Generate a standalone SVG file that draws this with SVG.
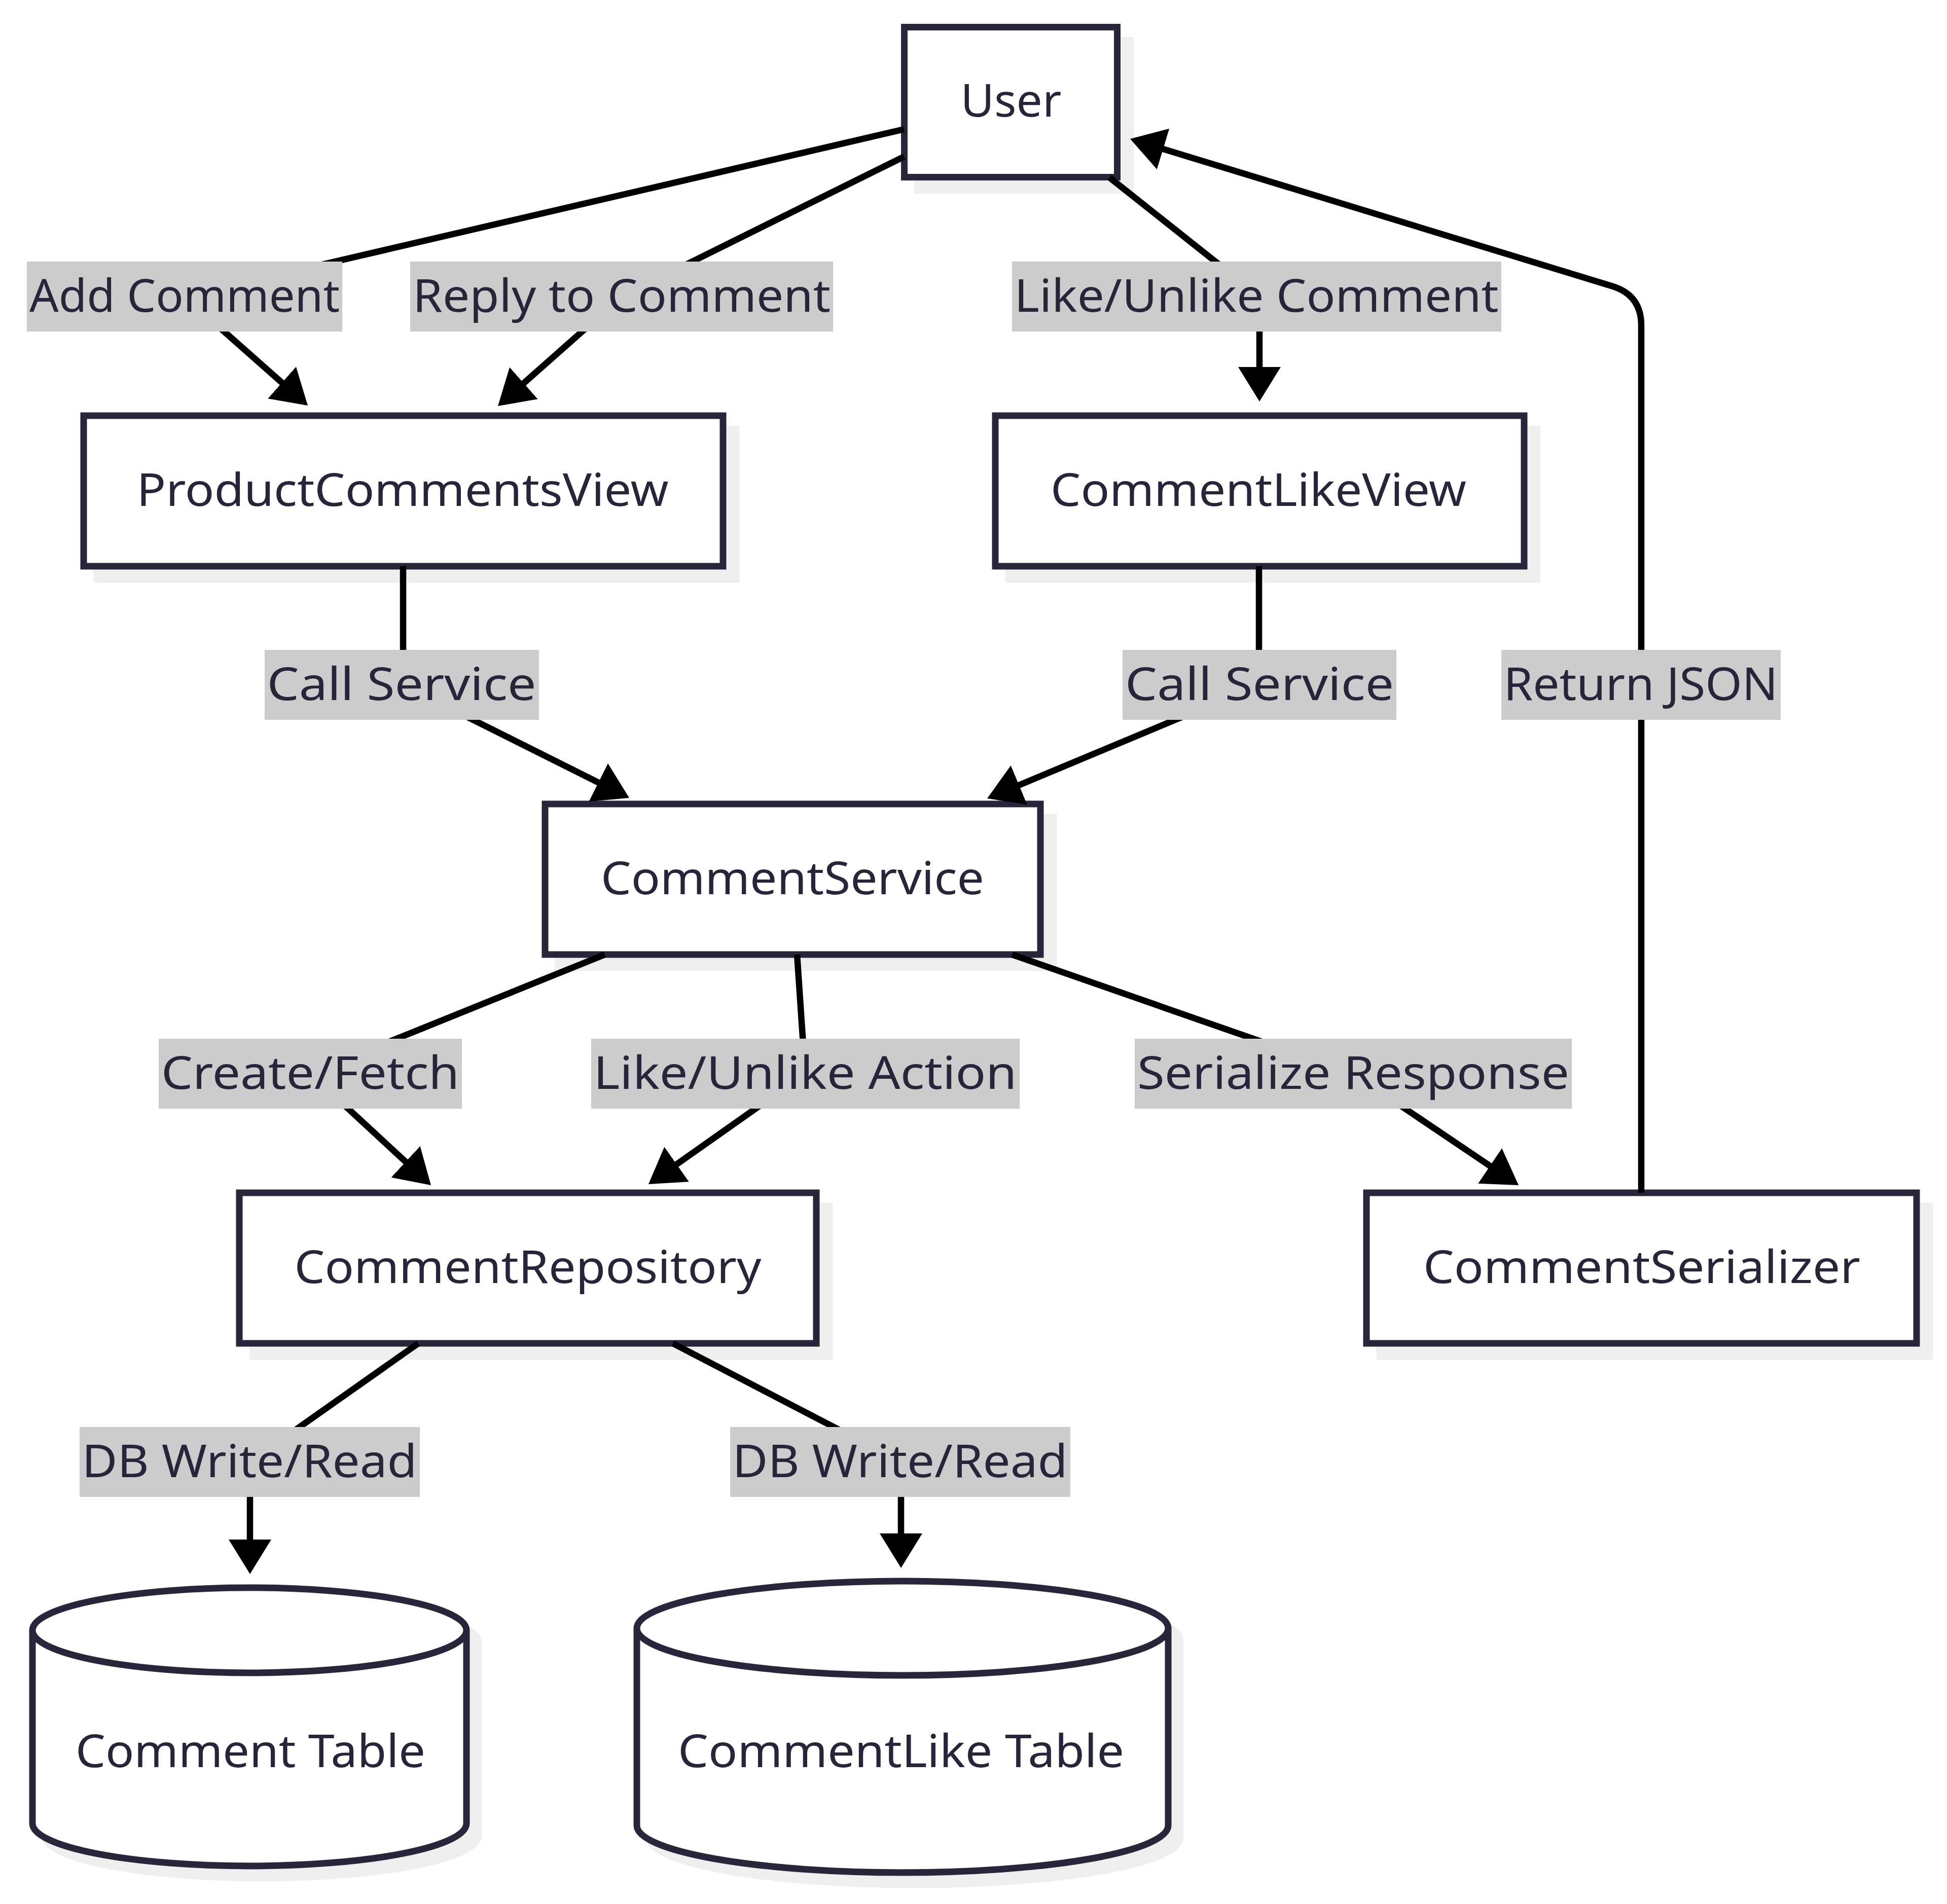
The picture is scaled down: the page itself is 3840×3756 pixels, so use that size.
<svg xmlns="http://www.w3.org/2000/svg" width="3840" height="3756" viewBox="0 0 3840 3756">
<defs>
<marker id="arr" markerUnits="userSpaceOnUse" markerWidth="70" markerHeight="86" refX="54" refY="42" orient="auto">
<path d="M0,0 L68,42 L0,84 z" fill="#000"/>
</marker>
<style>
.bg{fill:#ffffff}
.node rect.box,.node path.box{fill:#ffffff;stroke:#27263b;stroke-width:13}
.shadow{fill:#efefef;stroke:#efefef;stroke-width:13}
.ntext{font-family:"Noto Sans","DejaVu Sans",sans-serif;font-size:90px;fill:#28253b;text-anchor:middle}
.edge{fill:none;stroke:#000;stroke-width:12.5;marker-end:url(#arr)}
.lbl rect{fill:#cccccc}
.lbl text{font-family:"Noto Sans","DejaVu Sans",sans-serif;font-size:90px;fill:#28253b;text-anchor:middle}
</style>
</defs>
<rect class="bg" x="0" y="0" width="3840" height="3756"/>

<g id="node-user" class="node">
<rect class="shadow" x="1809.5" y="79.5" width="420" height="296"/>
<rect class="box" x="1783.5" y="53.5" width="420" height="296"/>
<text class="ntext" x="1994" y="230" textLength="199" lengthAdjust="spacingAndGlyphs">User</text>
</g>
<g id="node-productcommentsview" class="node">
<rect class="shadow" x="191" y="846" width="1261" height="297"/>
<rect class="box" x="165" y="820" width="1261" height="297"/>
<text class="ntext" x="794" y="998" textLength="1049" lengthAdjust="spacingAndGlyphs">ProductCommentsView</text>
</g>
<g id="node-commentlikeview" class="node">
<rect class="shadow" x="1989" y="846" width="1043" height="297"/>
<rect class="box" x="1963" y="820" width="1043" height="297"/>
<text class="ntext" x="2482" y="998" textLength="820" lengthAdjust="spacingAndGlyphs">CommentLikeView</text>
</g>
<g id="node-commentservice" class="node">
<rect class="shadow" x="1101" y="1612" width="977" height="297"/>
<rect class="box" x="1075" y="1586" width="977" height="297"/>
<text class="ntext" x="1563" y="1764" textLength="756" lengthAdjust="spacingAndGlyphs">CommentService</text>
</g>
<g id="node-commentrepository" class="node">
<rect class="shadow" x="498" y="2379" width="1138" height="297"/>
<rect class="box" x="472" y="2353" width="1138" height="297"/>
<text class="ntext" x="1041" y="2531" textLength="921" lengthAdjust="spacingAndGlyphs">CommentRepository</text>
</g>
<g id="node-commentserializer" class="node">
<rect class="shadow" x="2721" y="2379" width="1085" height="297"/>
<rect class="box" x="2695" y="2353" width="1085" height="297"/>
<text class="ntext" x="3238" y="2531" textLength="862" lengthAdjust="spacingAndGlyphs">CommentSerializer</text>
</g>
<g id="node-commenttable" class="node">
<path class="shadow" transform="translate(24,24)" d="M64,3216 a428,84 0 0 0 856,0 a428,84 0 0 0 -856,0 l0,381 a428,84 0 0 0 856,0 l0,-381"/>
<path class="box" d="M64,3216 a428,84 0 0 0 856,0 a428,84 0 0 0 -856,0 l0,381 a428,84 0 0 0 856,0 l0,-381"/>
<text class="ntext" x="494" y="3486" textLength="690" lengthAdjust="spacingAndGlyphs">Comment Table</text>
</g>
<g id="node-commentliketable" class="node">
<path class="shadow" transform="translate(24,24)" d="M1256,3212 a524,93 0 0 0 1048,0 a524,93 0 0 0 -1048,0 l0,389 a524,93 0 0 0 1048,0 l0,-389"/>
<path class="box" d="M1256,3212 a524,93 0 0 0 1048,0 a524,93 0 0 0 -1048,0 l0,389 a524,93 0 0 0 1048,0 l0,-389"/>
<text class="ntext" x="1777" y="3486" textLength="880" lengthAdjust="spacingAndGlyphs">CommentLike Table</text>
</g>

<g id="connectors">
<path class="edge" d="M1783,255 L364,585 L596.5,790.7"/>
<path class="edge" d="M1783,309 L1226,585 L992.5,791.7"/>
<path class="edge" d="M2188,350 L2484,585 L2484,778"/>
<path class="edge" d="M795,1117 L795,1351 L1228.5,1567.8"/>
<path class="edge" d="M2483,1117 L2483,1351 L1960,1569.6"/>
<path class="edge" d="M3237,2353 L3237,642 Q3237,582 3179.6,564.5 L2242.4,278.1"/>
<path class="edge" d="M1193,1883 L612,2118 L839.7,2328.5"/>
<path class="edge" d="M1572,1883 L1588,2118 L1290.4,2327.9"/>
<path class="edge" d="M1996,1883 L2669,2118 L2983.4,2330.2"/>
<path class="edge" d="M825,2650 L493,2884 L493,3091"/>
<path class="edge" d="M1327,2650 L1777,2884 L1777,3079"/>
</g>

<g id="edge-labels">
<g class="lbl"><rect x="53" y="516" width="622" height="138"/><text x="364" y="615" textLength="612" lengthAdjust="spacingAndGlyphs">Add Comment</text></g>
<g class="lbl"><rect x="809" y="516" width="834" height="138"/><text x="1226" y="615" textLength="824" lengthAdjust="spacingAndGlyphs">Reply to Comment</text></g>
<g class="lbl"><rect x="1996" y="516" width="965" height="138"/><text x="2478" y="615" textLength="955" lengthAdjust="spacingAndGlyphs">Like/Unlike Comment</text></g>
<g class="lbl"><rect x="522" y="1282" width="541" height="138"/><text x="792" y="1381" textLength="531" lengthAdjust="spacingAndGlyphs">Call Service</text></g>
<g class="lbl"><rect x="2214" y="1282" width="540" height="138"/><text x="2484" y="1381" textLength="530" lengthAdjust="spacingAndGlyphs">Call Service</text></g>
<g class="lbl"><rect x="2961" y="1282" width="551" height="138"/><text x="3236" y="1381" textLength="541" lengthAdjust="spacingAndGlyphs">Return JSON</text></g>
<g class="lbl"><rect x="313" y="2049" width="598" height="138"/><text x="612" y="2148" textLength="588" lengthAdjust="spacingAndGlyphs">Create/Fetch</text></g>
<g class="lbl"><rect x="1166" y="2049" width="845" height="138"/><text x="1588" y="2148" textLength="835" lengthAdjust="spacingAndGlyphs">Like/Unlike Action</text></g>
<g class="lbl"><rect x="2238" y="2049" width="862" height="138"/><text x="2669" y="2148" textLength="852" lengthAdjust="spacingAndGlyphs">Serialize Response</text></g>
<g class="lbl"><rect x="157" y="2815" width="671" height="138"/><text x="492" y="2914" textLength="661" lengthAdjust="spacingAndGlyphs">DB Write/Read</text></g>
<g class="lbl"><rect x="1440" y="2815" width="671" height="138"/><text x="1775" y="2914" textLength="661" lengthAdjust="spacingAndGlyphs">DB Write/Read</text></g>
</g>
</svg>
